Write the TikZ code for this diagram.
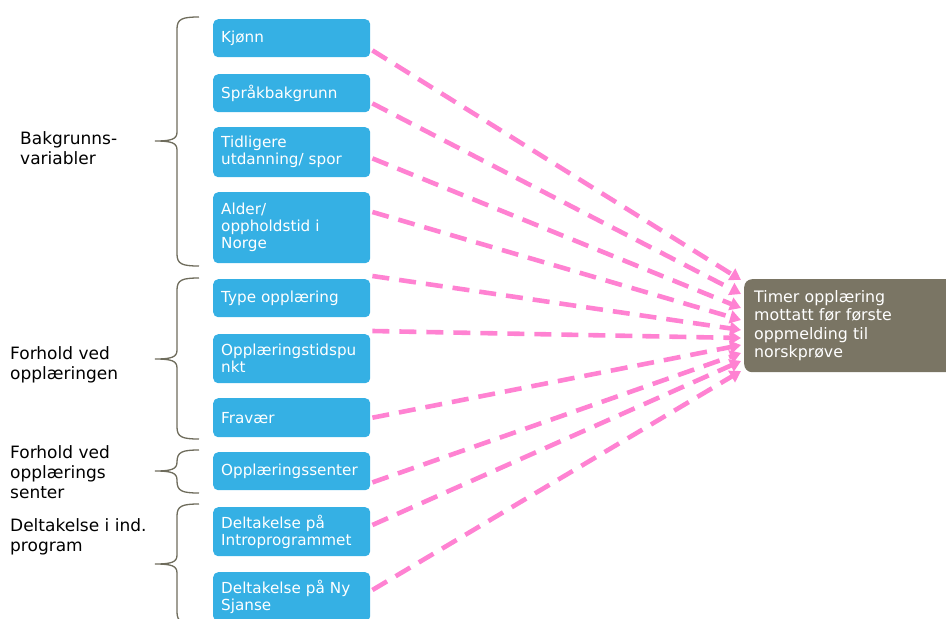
\documentclass[tikz,border=0pt]{standalone}
\usepackage{fontspec}
\setmainfont{DejaVu Sans}
\usetikzlibrary{arrows.meta,calc}
\definecolor{boxblue}{RGB}{53,176,228}
\definecolor{tgtgrey}{RGB}{122,117,100}
\definecolor{linkpink}{RGB}{255,130,210}
\definecolor{bracegrey}{RGB}{110,108,92}
\newcommand{\myboxfont}{\fontsize{15.2}{17}\selectfont\hyphenpenalty 10000\relax}
\tikzset{
  varbox/.style={fill=boxblue, rounded corners=5pt, anchor=north west, minimum width=157pt,
    inner xsep=8pt, inner ysep=2pt, text width=141pt, align=left, text=white,
    font=\myboxfont},
  tgtbox/.style={fill=tgtgrey, rounded corners=8pt, anchor=north west, minimum width=230pt,
    minimum height=93pt, inner xsep=10pt, text width=210pt, align=left, text=white,
    font=\fontsize{15.8}{18.3}\selectfont},
  grouplabel/.style={anchor=west, align=left, inner sep=0pt, text=black,
    font=\fontsize{17}{20}\selectfont},
  link/.style={draw=linkpink, line width=4.6pt, dash pattern=on 17pt off 10pt,
    -{Triangle[length=11pt,width=13pt]}},
  bracestyle/.style={draw=bracegrey, line width=1.3pt}
}
\newcommand{\mybrace}[3]{%
  \draw[bracestyle] (199,#1) .. controls (182,#1) and (177,#1+2) .. (177,#1+12)
    -- (177,#2-9) .. controls (177,#2-2) and (172,#2) .. (155,#2)
    .. controls (172,#2) and (177,#2+2) .. (177,#2+9)
    -- (177,#3-12) .. controls (177,#3-2) and (182,#3) .. (199,#3);}
\begin{document}
\begin{tikzpicture}[x=1pt,y=-1pt]
\useasboundingbox (0,0) rectangle (946,619);

% variable boxes
\node[varbox, minimum height=38pt] (kjonn) at (213,19) {Kjønn};
\node[varbox, minimum height=38pt] (sprak) at (213,74) {Språkbakgrunn};
\node[varbox, minimum height=50pt] (tidl) at (213,127) {Tidligere\\utdanning/ spor};
\node[varbox, minimum height=71pt] (alder) at (213,192) {Alder/\\oppholdstid i\\Norge};
\node[varbox, minimum height=38pt] (type) at (213,279) {Type opplæring};
\node[varbox, minimum height=49pt] (opptid) at (213,334) {Opplæringstidspu\\nkt};
\node[varbox, minimum height=39pt] (fravaer) at (213,398) {Fravær};
\node[varbox, minimum height=38pt] (senter) at (213,452) {Opplæringssenter};
\node[varbox, minimum height=49pt] (intro) at (213,507) {Deltakelse på\\Introprogrammet};
\node[varbox, minimum height=49pt] (nysjanse) at (213,572) {Deltakelse på Ny\\Sjanse};

% target
\node[tgtbox] (target) at (744,279) {Timer opplæring\\mottatt før første\\oppmelding til\\norskprøve};

% group labels
\node[grouplabel] (g1) at (20,148) {Bakgrunns-\\variabler};
\node[grouplabel] (g2) at (10,365) {Forhold ved\\opplæringen};
\node[grouplabel] (g3) at (10,472) {Forhold ved\\opplærings\\senter};
\node[grouplabel] (g4) at (10,537) {Deltakelse i ind.\\program};

% braces
\mybrace{17}{141}{266}
\mybrace{278}{359}{439}
\mybrace{450}{471}{493}
\mybrace{504}{564}{624}

% connectors
\draw[link] ($(kjonn.south east)+(2,-7)$) -- ($(target.north west)+(-3,1)$);
\draw[link] ($(sprak.south east)+(2,-9)$) -- ($(target.north west)+(-3,15)$);
\draw[link] ($(tidl.south east)+(2,-19)$) -- ($(target.north west)+(-3,29)$);
\draw[link] ($(alder.north east)+(2,20)$) -- ($(target.north west)+(-3,41)$);
\draw[link] ($(type.north east)+(2,-3)$) -- ($(target.north west)+(-3,51)$);
\draw[link] ($(opptid.north east)+(2,-3)$) -- ($(target.north west)+(-3,59)$);
\draw[link] ($(fravaer.east)+(2,0)$) -- ($(target.north west)+(-3,66)$);
\draw[link] ($(senter.south east)+(2,-8)$) -- ($(target.north west)+(-3,74)$);
\draw[link] ($(intro.north east)+(2,18)$) -- ($(target.north west)+(-3,82)$);
\draw[link] ($(nysjanse.north east)+(2,18)$) -- ($(target.north west)+(-3,92)$);
\end{tikzpicture}
\end{document}
